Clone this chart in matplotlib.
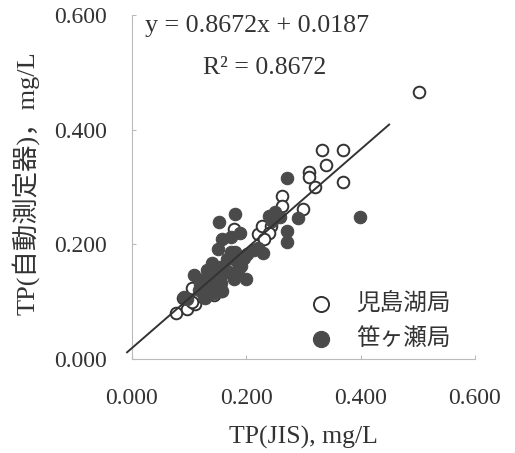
import matplotlib
matplotlib.use("Agg")
import matplotlib.pyplot as plt
import numpy as np

# 児島湖局 (open circles)
x_kojima = [0.503, 0.332, 0.370, 0.339, 0.310, 0.310, 0.320, 0.370, 0.299, 0.262,
            0.262, 0.179, 0.220, 0.228, 0.243, 0.240, 0.231, 0.077, 0.097, 0.110,
            0.089, 0.106, 0.156, 0.144, 0.118, 0.130, 0.106]
y_kojima = [0.465, 0.364, 0.364, 0.339, 0.326, 0.318, 0.300, 0.308, 0.262, 0.284,
            0.267, 0.226, 0.218, 0.232, 0.232, 0.220, 0.209, 0.080, 0.088, 0.096,
            0.106, 0.124, 0.118, 0.112, 0.110, 0.115, 0.100]

# 笹ヶ瀬局 (filled circles)
x_sasa = [0.399, 0.272, 0.290, 0.272, 0.272, 0.260, 0.240, 0.250, 0.246, 0.180,
          0.152, 0.190, 0.158, 0.173, 0.220, 0.230, 0.202, 0.180, 0.150, 0.167,
          0.185, 0.141, 0.132, 0.150, 0.167, 0.185, 0.179, 0.199, 0.109, 0.126,
          0.141, 0.156, 0.132, 0.144, 0.158, 0.126, 0.091, 0.097, 0.129, 0.118,
          0.162, 0.182, 0.191, 0.179, 0.173, 0.213, 0.196, 0.137, 0.155, 0.120]
y_sasa = [0.247, 0.315, 0.246, 0.223, 0.204, 0.248, 0.250, 0.256, 0.241, 0.253,
          0.239, 0.220, 0.210, 0.213, 0.194, 0.185, 0.183, 0.186, 0.191, 0.174,
          0.168, 0.168, 0.156, 0.153, 0.153, 0.156, 0.139, 0.139, 0.146, 0.139,
          0.136, 0.133, 0.124, 0.115, 0.118, 0.109, 0.109, 0.104, 0.106, 0.121,
          0.150, 0.150, 0.162, 0.174, 0.186, 0.190, 0.176, 0.147, 0.160, 0.130]

slope = 0.8672
intercept = 0.0187
r2 = 0.8672
line_x = [-0.008, 0.45]

ticks = [0.0, 0.2, 0.4, 0.6]
tick_labels = ["0.000", "0.200", "0.400", "0.600"]

serif = ["Liberation Serif", "Noto Sans CJK JP"]
plt.rcParams["font.family"] = serif

fig = plt.figure(figsize=(5.15, 4.53), dpi=100)
ax = fig.add_axes([0.2557, 0.2075, 0.9223 - 0.2557, 0.9669 - 0.2075])
ax.set_xlim(0, 0.6)
ax.set_ylim(0, 0.6)

fill_col = "#4a4a4a"
ax.scatter(x_kojima, y_kojima, s=70, facecolor="white", edgecolor="#333333",
           linewidth=1.4, zorder=2, label="児島湖局")
ax.scatter(x_sasa, y_sasa, s=80, facecolor=fill_col, edgecolor=fill_col,
           linewidth=0.8, zorder=3, label="笹ヶ瀬局")
lx = np.array(line_x)
ax.plot(lx, slope * lx + intercept, color="#333333", lw=1.4, zorder=4,
        clip_on=False)

for s in ["top", "right"]:
    ax.spines[s].set_visible(False)
for s in ["left", "bottom"]:
    ax.spines[s].set_color("#bbbbbb")
    ax.spines[s].set_linewidth(0.8)

ax.set_xticks(ticks)
ax.set_xticklabels(tick_labels)
ax.set_yticks(ticks)
ax.set_yticklabels(tick_labels)
ax.tick_params(axis="x", direction="in", length=3, color="#bbbbbb",
               labelsize=17, pad=21, labelcolor="#333333")
ax.tick_params(axis="y", direction="in", length=3, color="#bbbbbb",
               labelsize=17, pad=18, labelcolor="#333333")

ax.set_xlabel("TP(JIS), mg/L", fontsize=18.5, color="#333333", labelpad=12)
fig.text(0.049, 0.595, "TP(自動測定器)，mg/L", rotation=90, ha="center",
         va="center", fontsize=19, color="#333333", family=serif)

ax.text(0.023, 0.58, "y = 0.8672x + 0.0187", fontsize=18.7,
        color="#333333", va="center", ha="left")
ax.text(0.124, 0.508, "R² = 0.8672", fontsize=18.5, color="#333333",
        va="center", ha="left")

leg = ax.legend(loc="upper left",
                bbox_to_anchor=(0.482, 0.225), frameon=False, fontsize=17,
                handlelength=1.0, handletextpad=1.0, borderpad=0,
                labelspacing=0.52, markerscale=1.3)
for t in leg.get_texts():
    t.set_color("#333333")

fig.savefig("out.png", dpi=100)
